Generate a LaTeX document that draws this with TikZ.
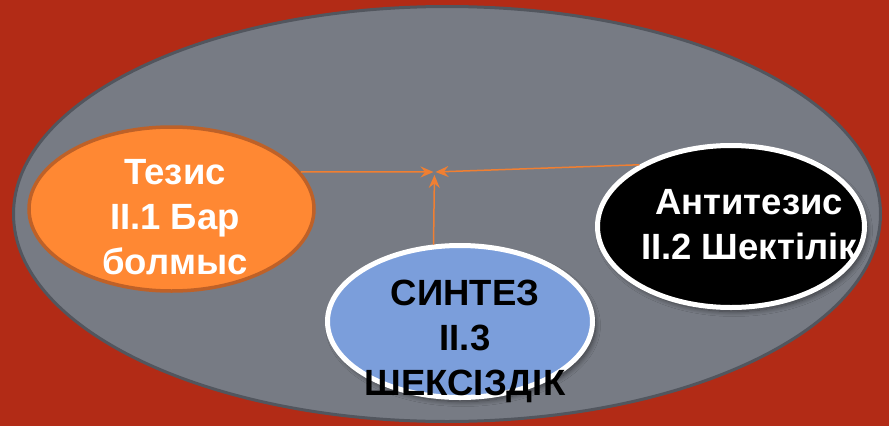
\documentclass[tikz,border=0pt]{standalone}
\usepackage{fontspec}
\setmainfont{Liberation Sans}
\usetikzlibrary{shapes.geometric,arrows.meta,shadows.blur}
\definecolor{bgred}{HTML}{B22B16}
\definecolor{outerfill}{HTML}{777B84}
\definecolor{outerline}{HTML}{52565E}
\definecolor{orfill}{HTML}{FF8833}
\definecolor{orline}{HTML}{BE6128}
\definecolor{blfill}{HTML}{7B9EDB}
\definecolor{arrcol}{HTML}{F07F32}
\tikzset{
  bubble/.style={ellipse, inner sep=0pt},
  softshadow/.style={blur shadow={shadow xshift=3pt, shadow yshift=-4pt, shadow blur steps=10, shadow opacity=50, shadow blur radius=5pt}},
  label35/.style={align=center, font=\fontsize{36.5}{45}\selectfont\bfseries, inner sep=0pt},
  arr/.style={draw=arrcol, line width=1.5pt, -{Stealth[length=13pt,width=11pt,inset=4.5pt]}}
}
\begin{document}
\begin{tikzpicture}[x=1pt,y=-1pt]
\fill[bgred] (0,0) rectangle (889,426);
\useasboundingbox (0,0) rectangle (889,426);
\begin{scope}
\clip (0,0) rectangle (889,426);
\node[bubble, draw=outerline, fill=outerfill, line width=3pt, minimum width=867pt, minimum height=415pt] (outer) at (447,214) {};
\end{scope}
\node[bubble, draw=orline, fill=orfill, line width=3.5pt, minimum width=285pt, minimum height=164pt] (tezis) at (171.5,209) {};
\node[bubble, draw=white, fill=blfill, line width=5pt, minimum width=265pt, minimum height=152pt, softshadow] (synth) at (460,321.5) {};
\node[bubble, draw=white, fill=black, line width=5pt, minimum width=267pt, minimum height=162pt, softshadow] (anti) at (731,226.5) {};
\node[label35, text=white] (tezist) at (175,217.5) {Тезис\\ІІ.1 Бар\\болмыс};
\node[label35, text=white] (antit) at (749,225) {Антитезис\\ІІ.2 Шектілік};
\node[label35, text=black] (syntht) at (465,341) {СИНТЕЗ\\ІІ.3\\ШЕКСІЗДІК};
\coordinate (m) at (434.5,172);
\draw[arr, shorten >=1pt] (tezis.16.5) -- (m);
\draw[arr, shorten >=1pt] (anti.146) -- (m);
\draw[arr, shorten >=3pt] (synth.109) -- (m);
\end{tikzpicture}
\end{document}
